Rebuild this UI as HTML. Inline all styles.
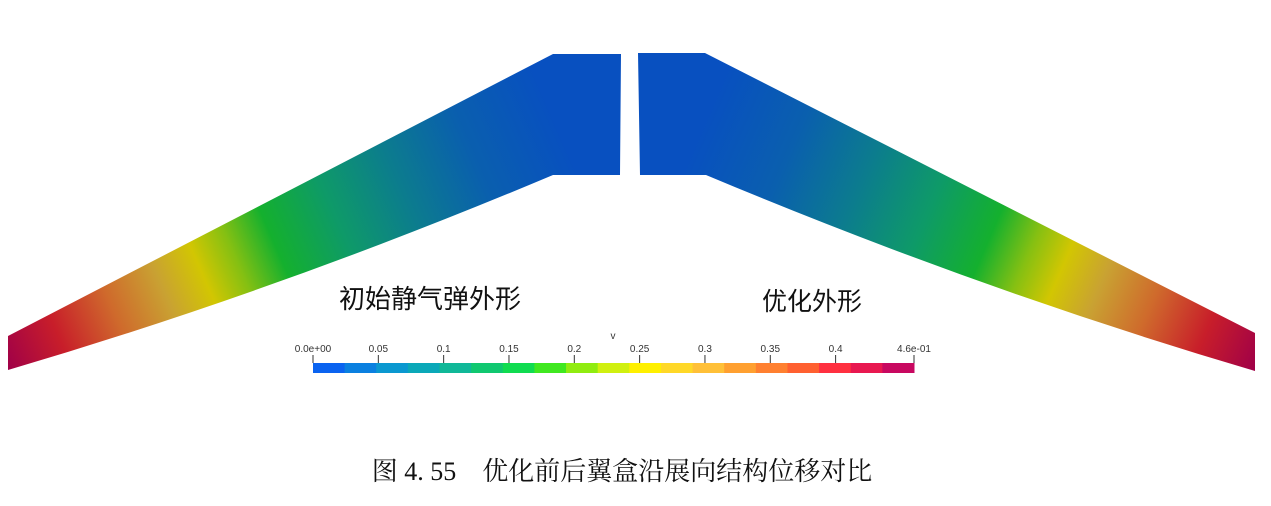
<!DOCTYPE html>
<html><head><meta charset="utf-8"><style>
html,body{margin:0;padding:0;background:#fff;}
svg{display:block;}
</style></head><body>
<svg width="1271" height="506" viewBox="0 0 1271 506" xmlns="http://www.w3.org/2000/svg">
<defs>
<linearGradient id="gl" gradientUnits="userSpaceOnUse" x1="8" y1="370" x2="560" y2="130">
<stop offset="0" stop-color="#a00048"/><stop offset="0.1" stop-color="#c81e2a"/><stop offset="0.2" stop-color="#cf6a2c"/><stop offset="0.29" stop-color="#c9a232"/><stop offset="0.36" stop-color="#d2c602"/><stop offset="0.42" stop-color="#86c012"/><stop offset="0.49" stop-color="#14b02e"/><stop offset="0.6" stop-color="#0e9a68"/><stop offset="0.72" stop-color="#0c7c8e"/><stop offset="0.85" stop-color="#0a5fae"/><stop offset="1" stop-color="#0850c0"/>
</linearGradient>
<linearGradient id="gr" gradientUnits="userSpaceOnUse" x1="1255" y1="370" x2="700" y2="130">
<stop offset="0" stop-color="#a00048"/><stop offset="0.1" stop-color="#c81e2a"/><stop offset="0.2" stop-color="#cf6a2c"/><stop offset="0.29" stop-color="#c9a232"/><stop offset="0.36" stop-color="#d2c602"/><stop offset="0.42" stop-color="#86c012"/><stop offset="0.49" stop-color="#14b02e"/><stop offset="0.6" stop-color="#0e9a68"/><stop offset="0.72" stop-color="#0c7c8e"/><stop offset="0.85" stop-color="#0a5fae"/><stop offset="1" stop-color="#0850c0"/>
</linearGradient>
</defs>
<path fill="url(#gl)" d="M8,336 L553,54 L621,54 L620,175 L553,175 Q280,290 8,370 Z"/>
<path fill="url(#gr)" d="M1255,333 L705,53 L638,53 L640,175 L706,175 Q980,290 1255,371 Z"/>
<text x="430" y="308" text-anchor="middle" font-family="'Liberation Sans','Noto Sans CJK SC',sans-serif" font-size="26" fill="#111">初始静气弹外形</text>
<text x="812" y="310" text-anchor="middle" font-family="'Liberation Sans','Noto Sans CJK SC',sans-serif" font-size="25" fill="#111">优化外形</text>
<g id="cbar"></g>
<text x="613" y="339" text-anchor="middle" font-family="'Liberation Sans',sans-serif" font-size="10" fill="#333">v</text>
<text x="622" y="480" text-anchor="middle" font-family="'Liberation Serif','Noto Serif CJK SC',serif" font-size="26" fill="#111" xml:space="preserve">图 4. 55    优化前后翼盒沿展向结构位移对比</text>
</svg>
<script>
const tickValues=[0,0.05,0.1,0.15,0.2,0.25,0.3,0.35,0.4,0.46];
const tickLabels=["0.0e+00","0.05","0.1","0.15","0.2","0.25","0.3","0.35","0.4","4.6e-01"];
const bandColors=["#0a63f0","#0a80e0","#0a98d0","#0aa8b8","#10b898","#10c870","#10dc50","#40e820","#90ec10","#d0f010","#fff000","#ffd828","#ffc038","#ffa030","#ff8030","#ff6030","#ff3040","#e81850","#c80860"];
const NS="http://www.w3.org/2000/svg";
const g=document.getElementById('cbar');
const x0=313,x1=914,vmax=0.46,yb=363,hb=10;
const sx=v=>x0+(x1-x0)*v/vmax;
const bw=(x1-x0)/bandColors.length;
bandColors.forEach((c,i)=>{
  const r=document.createElementNS(NS,'rect');
  r.setAttribute('x',x0+i*bw);r.setAttribute('y',yb);r.setAttribute('width',bw+0.5);r.setAttribute('height',hb);r.setAttribute('fill',c);
  
  
  g.appendChild(r);
});
tickValues.forEach((v,i)=>{
  const x=sx(v);
  const l=document.createElementNS(NS,'line');
  l.setAttribute('x1',x);l.setAttribute('x2',x);l.setAttribute('y1',355);l.setAttribute('y2',363);l.setAttribute('stroke','#333');l.setAttribute('stroke-width','1');
  
  
  g.appendChild(l);
  const t=document.createElementNS(NS,'text');
  t.setAttribute('x',x);t.setAttribute('y',352);t.setAttribute('text-anchor','middle');
  t.setAttribute('font-family',"'Liberation Sans',sans-serif");t.setAttribute('font-size','10');t.setAttribute('fill','#333');
  t.textContent=tickLabels[i];
  
  
  g.appendChild(t);
});
</script>
</body></html>
